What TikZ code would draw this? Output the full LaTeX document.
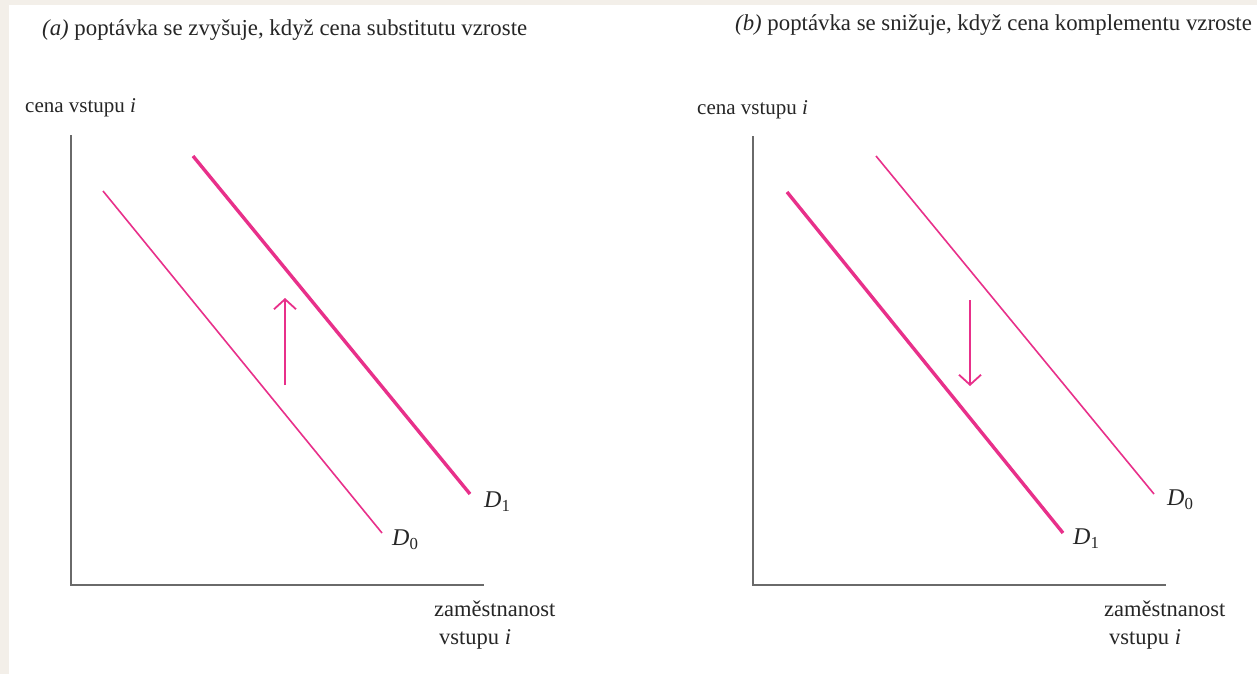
\documentclass[tikz,border=0pt]{standalone}
\usepackage{fontspec}
\setmainfont{Liberation Serif}
\usetikzlibrary{arrows.meta}
\definecolor{demand}{HTML}{E8308A}
\definecolor{axisgray}{HTML}{6A6A6A}
\definecolor{pagebg}{HTML}{F3EFE9}
\begin{document}
\begin{tikzpicture}[
    x=1pt, y=-1pt,
    >=stealth,
    lbl/.style={inner sep=0pt, font=\fontsize{22.5}{28}\selectfont, text=black!85},
    ylbl/.style={inner sep=0pt, font=\fontsize{21}{26}\selectfont, text=black!85},
    ttl/.style={inner sep=0pt, font=\fontsize{22.8}{28}\selectfont, text=black!85},
    dlbl/.style={inner sep=0pt, font=\fontsize{24}{28}\selectfont, text=black!85},
    axis/.style={draw=axisgray, line width=2.2pt},
    dthin/.style={draw=demand, line width=1.6pt},
    dthick/.style={draw=demand, line width=3.4pt},
    shiftarr/.style={->, draw=demand, line width=1.8pt,
        >={Straight Barb[length=10pt, width=22pt]}}
]
    \useasboundingbox (0,0) rectangle (1257,674);
    \fill[pagebg] (0,0) rectangle (1257,674);
    \fill[white] (9,5) rectangle (1257,674);

    % (a) substitut
    \node[ttl, anchor=west] (ta) at (42,30)
        {\textit{(a)} poptávka se zvyšuje, když cena substitutu vzroste};
    \node[ylbl, anchor=west] (ya) at (25,108) {cena vstupu \textit{i}};
    \coordinate (oa) at (71,585);
    \coordinate (topa) at (71,136);
    \coordinate (enda) at (483,585);
    \draw[axis, line cap=rect] (topa) -- (oa) -- (enda);
    \node[lbl, anchor=west, align=left] (xa) at (434,625)
        {zaměstnanost\\\hspace{5pt}vstupu \textit{i}};

    \coordinate (a0s) at (103,191);
    \coordinate (a0e) at (382,533);
    \coordinate (a1s) at (193,156);
    \coordinate (a1e) at (470,494);
    \draw[dthin] (a0s) -- (a0e);
    \draw[dthick] (a1s) -- (a1e);
    \node[dlbl, anchor=west] (a0) at (392,540) {\textit{D}\textsubscript{0}};
    \node[dlbl, anchor=west] (a1) at (484,502) {\textit{D}\textsubscript{1}};
    \coordinate (upa) at (285,385);
    \coordinate (upb) at (285,298);
    \draw[shiftarr] (upa) -- (upb);

    % (b) komplement
    \node[ttl, anchor=west] (tb) at (735,25)
        {\textit{(b)} poptávka se snižuje, když cena komplementu vzroste};
    \node[ylbl, anchor=west] (yb) at (697,110) {cena vstupu \textit{i}};
    \coordinate (ob) at (753,585);
    \coordinate (topb) at (753,137);
    \coordinate (endb) at (1165,585);
    \draw[axis, line cap=rect] (topb) -- (ob) -- (endb);
    \node[lbl, anchor=west, align=left] (xb) at (1104,625)
        {zaměstnanost\\\hspace{5pt}vstupu \textit{i}};

    \coordinate (b0s) at (876,156);
    \coordinate (b0e) at (1154,494);
    \coordinate (b1s) at (787,192);
    \coordinate (b1e) at (1063,533);
    \draw[dthin] (b0s) -- (b0e);
    \draw[dthick] (b1s) -- (b1e);
    \node[dlbl, anchor=west] (b0) at (1167,500) {\textit{D}\textsubscript{0}};
    \node[dlbl, anchor=west] (b1) at (1073,539) {\textit{D}\textsubscript{1}};
    \coordinate (dnb) at (970,300);
    \coordinate (dne) at (970,386);
    \draw[shiftarr] (dnb) -- (dne);
\end{tikzpicture}
\end{document}
